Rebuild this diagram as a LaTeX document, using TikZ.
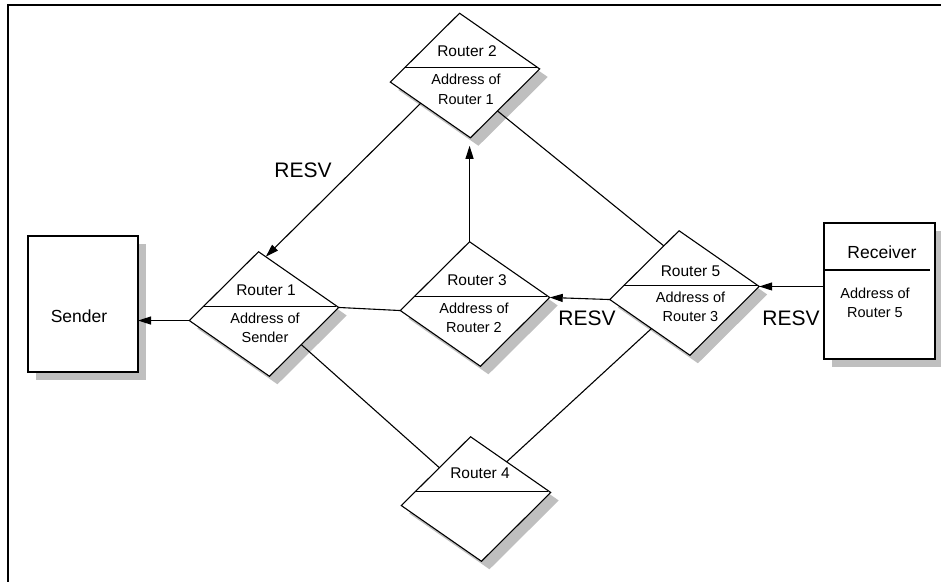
\documentclass[tikz,border=0pt]{standalone}
\usepackage{fontspec}
\setmainfont{Liberation Sans}
\usetikzlibrary{arrows.meta,calc,shapes.geometric}

\tikzset{
  router/.style={draw, shape=diamond, minimum width=150pt, minimum height=125pt,
    inner sep=0pt, outer sep=0pt, rotate=5, fill=white,
    preaction={fill=gray!50, transform canvas={shift={(8pt,-8pt)}}}},
  hostbox/.style={draw, fill=white, minimum width=110pt, minimum height=136pt,
    inner sep=0pt, outer sep=0pt,
    preaction={fill=gray!50, transform canvas={shift={(8pt,-8pt)}}}},
  rtext/.style={font=\fontsize{14.5}{19.5}\selectfont, align=center, inner sep=0pt},
  ttext/.style={font=\fontsize{15.5}{19.5}\selectfont, inner sep=0pt},
  htext/.style={font=\fontsize{17.5}{20}\selectfont, inner sep=0pt},
  lbl/.style={font=\fontsize{21}{24}\selectfont, inner sep=0pt},
  resv/.style={-{Triangle[length=13pt,width=8pt]}},
}

\begin{document}
\begin{tikzpicture}[x=1pt, y=-1pt, line width=1.1pt]
  \useasboundingbox (0,0) rectangle (941,582);
  % Frame
  \draw (941,5) -- (8,5) -- (8,582);
  % Hosts
  \node[hostbox] (sender) at (83,304) {};
  \node[htext] (sendert) at ([xshift=-4pt,yshift=-12pt]sender.center) {Sender};
  \node[hostbox, minimum width=111pt] (recv) at (879.5,291) {};
  \draw ([yshift=21pt]recv.west) -- ([xshift=-5pt,yshift=21pt]recv.east);
  \node[htext] (recvt) at ([xshift=2.5pt,yshift=39pt]recv.center) {Receiver};
  \node[rtext] (recva) at ([xshift=-4.5pt,yshift=-12pt]recv.center) {Address of\\Router 5};
  % Routers
  \node[router] (r1) at (264,314) {};
  \node[router] (r2) at (465,75.5) {};
  \node[router] (r3) at (475,304) {};
  \node[router] (r4) at (476,499) {};
  \node[router] (r5) at (684.5,293) {};
  \foreach \r in {r1,r2,r3,r4,r5} {
    \coordinate (dl) at ($(\r.west)!0.21!(\r.north)$);
    \coordinate (dr) at ($(\r.north)!0.97!(\r.east)$);
    \draw (dl) -- (dl -| dr);
  }
  \node[ttext] (r1t) at ([xshift=2pt,yshift=24pt]r1.center) {Router 1};
  \node[rtext] (r1a) at ([xshift=1pt,yshift=-14pt]r1.center) {Address of\\Sender};
  \node[ttext] (r2t) at ([xshift=2pt,yshift=24pt]r2.center) {Router 2};
  \node[rtext] (r2a) at ([xshift=1pt,yshift=-14pt]r2.center) {Address of\\Router 1};
  \node[ttext] (r3t) at ([xshift=2pt,yshift=24pt]r3.center) {Router 3};
  \node[rtext] (r3a) at ([xshift=-1pt,yshift=-14pt]r3.center) {Address of\\Router 2};
  \node[ttext] (r4t) at ([xshift=4pt,yshift=26pt]r4.center) {Router 4};
  \node[ttext] (r5t) at ([xshift=6pt,yshift=22pt]r5.center) {Router 5};
  \node[rtext] (r5a) at ([xshift=6pt,yshift=-14pt]r5.center) {Address of\\Router 3};
  % Links
  \draw[resv] ($(r2.west)!0.38!(r2.south)$) -- ($(r1.north)!0.09!(r1.east)$);
  \coordinate (r2in) at ([yshift=-8pt]r2.south);
  \draw[resv] (r3.north) -- (r3.north |- r2in);
  \draw (r3.west) -- (r1.east);
  \draw[resv] (r1.west) -- (r1.west -| sender.east);
  \draw[resv] (r5.west) -- (r3.east);
  \draw[resv] (r5.east -| recv.west) -- (r5.east);
  \draw ($(r2.east)!0.61!(r2.south)$) -- ($(r5.north)!0.22!(r5.west)$);
  \draw ($(r1.east)!0.54!(r1.south)$) -- ($(r4.north)!0.45!(r4.west)$);
  \draw ($(r5.west)!0.52!(r5.south)$) -- ($(r4.north)!0.45!(r4.east)$);
  % Labels
  \node[lbl] (l1) at (303,170) {RESV};
  \node[lbl] (l2) at (587,318) {RESV};
  \node[lbl] (l3) at (791,318) {RESV};
\end{tikzpicture}
\end{document}
